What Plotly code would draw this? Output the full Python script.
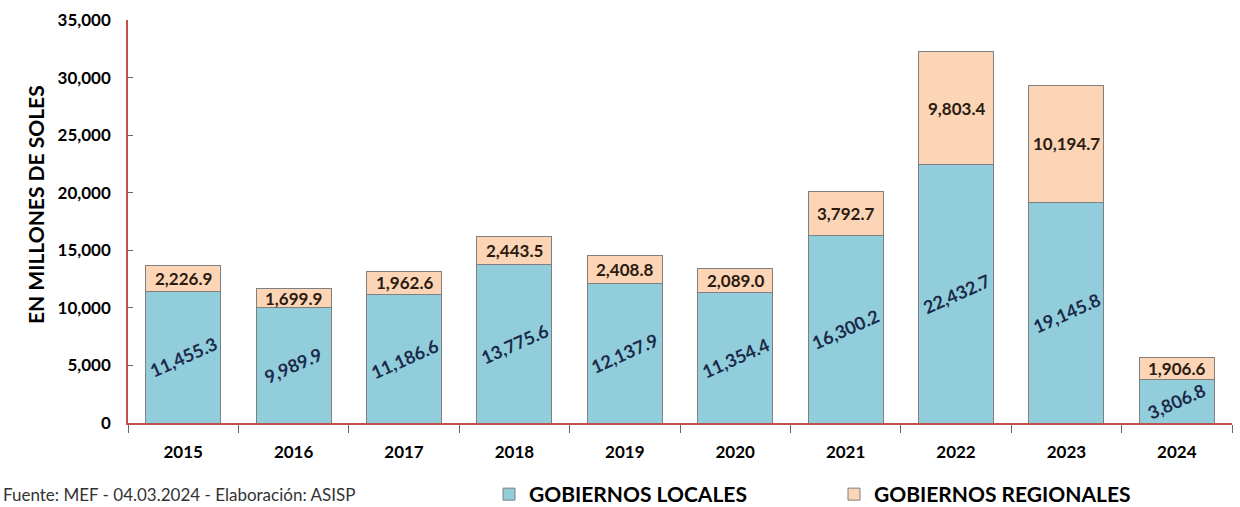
import plotly.graph_objects as go

years = ["2015", "2016", "2017", "2018", "2019", "2020", "2021", "2022", "2023", "2024"]
locales = [11455.3, 9989.9, 11186.6, 13775.6, 12137.9, 11354.4, 16300.2, 22432.7, 19145.8, 3806.8]
regionales = [2226.9, 1699.9, 1962.6, 2443.5, 2408.8, 2089.0, 3792.7, 9803.4, 10194.7, 1906.6]
y_ticks = [0, 5000, 10000, 15000, 20000, 25000, 30000, 35000]

FONT = "Lato"
W, H = 1240, 507
ML, MR, MT, MB = 128, 8, 20, 84
PW = W - ML - MR
PH = H - MT - MB


def px_x(px):
    return (px - ML) / PW


def px_y(py):
    return (H - MB - py) / PH


fig = go.Figure()
fig.add_trace(go.Bar(
    x=years, y=locales, name="<b>GOBIERNOS LOCALES</b>",
    marker=dict(color="#92CDDC", line=dict(color="#7F7F7F", width=1)),
))
fig.add_trace(go.Bar(
    x=years, y=regionales, name="<b>GOBIERNOS REGIONALES</b>",
    marker=dict(color="#FBD5B5", line=dict(color="#7F7F7F", width=1)),
))

annotations = []
for i, (lo, re) in enumerate(zip(locales, regionales)):
    annotations.append(dict(
        x=i, y=lo / 2, xref="x", yref="y", text=f"<b>{lo:,.1f}</b>",
        showarrow=False, textangle=-24,
        font=dict(family=FONT, size=18, color="#1B2A48"),
    ))
    annotations.append(dict(
        x=i, y=lo + re / 2, xref="x", yref="y", text=f"<b>{re:,.1f}</b>",
        showarrow=False,
        font=dict(family=FONT, size=17, color="#2B1A10"),
    ))

annotations.append(dict(
    x=px_x(35), y=px_y(205), xref="paper", yref="paper",
    xanchor="center", yanchor="middle", showarrow=False, textangle=-90,
    text="<b>EN MILLONES DE SOLES</b>",
    font=dict(family=FONT, size=21, color="#000000"),
))
annotations.append(dict(
    x=px_x(1), y=px_y(494), xref="paper", yref="paper",
    xanchor="left", yanchor="middle", showarrow=False,
    text="Fuente: MEF - 04.03.2024 - Elaboración: ASISP",
    font=dict(family=FONT, size=17, color="#333333"),
))

fig.update_layout(
    width=W, height=H,
    barmode="stack", bargap=0.32,
    plot_bgcolor="white", paper_bgcolor="white",
    margin=dict(l=ML, r=MR, t=MT, b=MB, autoexpand=False),
    font=dict(family=FONT, color="#000000"),
    showlegend=True,
    legend=dict(
        orientation="h", x=px_x(489), xanchor="left",
        y=px_y(474), yanchor="top",
        font=dict(family=FONT, size=21, color="#000000"),
        entrywidth=300, entrywidthmode="pixels", traceorder="normal",
        itemclick=False, itemwidth=30,
    ),
    annotations=annotations,
)
fig.update_xaxes(
    type="category", range=[-0.5, len(years) - 0.5], autorange=False,
    showline=True, linecolor="#C0504D", linewidth=1.5,
    ticks="outside", tickson="boundaries", ticklen=8, tickcolor="#666666",
    ticklabelstandoff=13,
    tickfont=dict(family=FONT, size=17, color="#000000", weight="bold"),
    showgrid=False,
)
fig.update_yaxes(
    range=[0, 35000], tickvals=y_ticks, tickformat=",",
    showline=True, linecolor="#C0504D", linewidth=1.5,
    ticks="inside", ticklen=5, tickcolor="#666666",
    ticklabelstandoff=12,
    tickfont=dict(family=FONT, size=17, color="#000000", weight="bold"),
    showgrid=False, zeroline=False,
)

fig.write_html(
    "out.html",
    config={"displayModeBar": False},
    post_script="document.body.style.margin='0px';document.body.style.padding='0px';",
)
